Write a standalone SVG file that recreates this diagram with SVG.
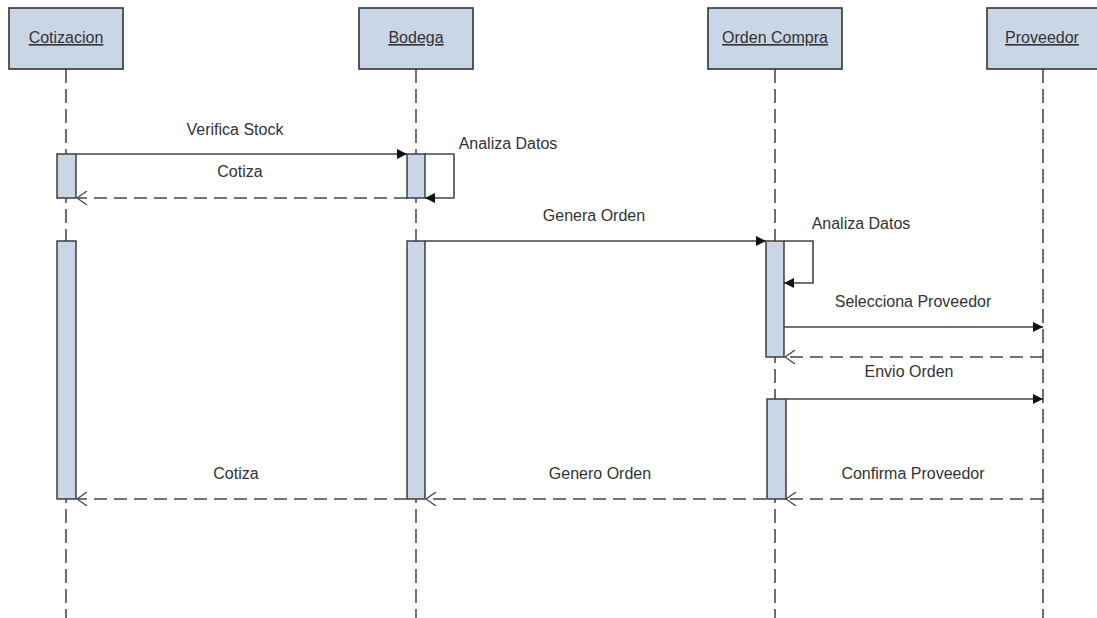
<svg xmlns="http://www.w3.org/2000/svg" width="1097" height="618" viewBox="0 0 1097 618">
  <style>
    .head { fill: #c9d6e6; stroke: #333; stroke-width: 1.6; }
    .act { fill: #c9d6e6; stroke: #333; stroke-width: 1.4; }
    .life { fill: none; stroke: #333; stroke-width: 1.4; stroke-dasharray: 14 6; }
    .msg { fill: none; stroke: #444; stroke-width: 1.6; }
    .ret { fill: none; stroke: #444; stroke-width: 1.6; stroke-dasharray: 13 7; }
    .htxt { font-family: "Liberation Sans", Arial, sans-serif; font-size: 16px; fill: #333; text-anchor: middle; text-decoration: underline; }
    .lbl { font-family: "Liberation Sans", Arial, sans-serif; font-size: 16px; fill: #333; text-anchor: middle; }
  </style>
  <defs>
    <marker id="filled" markerWidth="10" markerHeight="10" refX="10" refY="5" orient="auto" markerUnits="userSpaceOnUse">
      <path d="M0,0 L10,5 L0,10 Z" fill="#111"/>
    </marker>
    <marker id="open" markerWidth="12" markerHeight="14" refX="11" refY="7" orient="auto" markerUnits="userSpaceOnUse">
      <path d="M1,0 L11,7 L1,14" fill="none" stroke="#444" stroke-width="1.3"/>
    </marker>
  </defs>
  <rect width="1097" height="618" fill="#fff"/>

  <!-- lifelines -->
  <g id="lifelines">
    <line class="life" x1="66" y1="69" x2="66" y2="618"/>
    <line class="life" x1="416" y1="69" x2="416" y2="618"/>
    <line class="life" x1="775" y1="69" x2="775" y2="618"/>
    <line class="life" x1="1043" y1="69" x2="1043" y2="618"/>
  </g>

  <!-- participants -->
  <g id="cotizacion">
    <rect class="head" x="9" y="8" width="114" height="61"/>
    <text class="htxt" x="66" y="43">Cotizacion</text>
    <rect class="act" x="57" y="154" width="19" height="44"/>
    <rect class="act" x="57" y="241" width="19" height="258"/>
  </g>
  <g id="bodega">
    <rect class="head" x="359" y="8" width="114" height="61"/>
    <text class="htxt" x="416" y="43">Bodega</text>
    <rect class="act" x="407" y="154" width="18" height="44"/>
    <rect class="act" x="407" y="241" width="18" height="258"/>
  </g>
  <g id="orden-compra">
    <rect class="head" x="708" y="8" width="134" height="61"/>
    <text class="htxt" x="775" y="43">Orden Compra</text>
    <rect class="act" x="766" y="241" width="18" height="116"/>
    <rect class="act" x="767" y="399" width="19" height="100"/>
  </g>
  <g id="proveedor">
    <rect class="head" x="987" y="8" width="112" height="61"/>
    <text class="htxt" x="1042" y="43">Proveedor</text>
  </g>

  <!-- messages -->
  <g id="connectors">
    <line class="msg" x1="76" y1="154" x2="407" y2="154" marker-end="url(#filled)"/>
    <polyline class="msg" points="425,154 454,154 454,198 425,198" marker-end="url(#filled)"/>
    <line class="ret" x1="407" y1="198" x2="77" y2="198" marker-end="url(#open)"/>
    <line class="msg" x1="425" y1="241" x2="766" y2="241" marker-end="url(#filled)"/>
    <polyline class="msg" points="784,241 813,241 813,283 784,283" marker-end="url(#filled)"/>
    <line class="msg" x1="784" y1="327" x2="1043" y2="327" marker-end="url(#filled)"/>
    <line class="ret" x1="1043" y1="357" x2="785" y2="357" marker-end="url(#open)"/>
    <line class="msg" x1="786" y1="399" x2="1043" y2="399" marker-end="url(#filled)"/>
    <line class="ret" x1="1043" y1="499" x2="786" y2="499" marker-end="url(#open)"/>
    <line class="ret" x1="766" y1="499" x2="426" y2="499" marker-end="url(#open)"/>
    <line class="ret" x1="407" y1="499" x2="77" y2="499" marker-end="url(#open)"/>
  </g>

  <!-- message labels -->
  <g id="labels">
    <text class="lbl" x="235" y="135">Verifica Stock</text>
    <text class="lbl" x="240" y="177">Cotiza</text>
    <text class="lbl" x="508" y="149">Analiza Datos</text>
    <text class="lbl" x="594" y="221">Genera Orden</text>
    <text class="lbl" x="861" y="229">Analiza Datos</text>
    <text class="lbl" x="913" y="307">Selecciona Proveedor</text>
    <text class="lbl" x="909" y="377">Envio Orden</text>
    <text class="lbl" x="236" y="479">Cotiza</text>
    <text class="lbl" x="600" y="479">Genero Orden</text>
    <text class="lbl" x="913" y="479">Confirma Proveedor</text>
  </g>
</svg>
